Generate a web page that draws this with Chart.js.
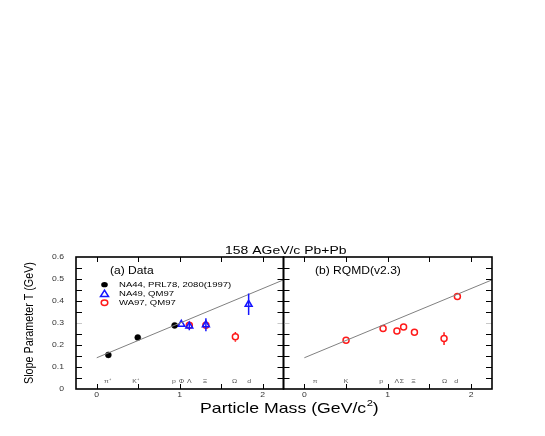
<!DOCTYPE html>
<html>
<head>
<meta charset="utf-8">
<script src="https://cdn.jsdelivr.net/npm/chart.js@4"></script>
<style>
  body { margin: 0; background: #fff; }
  #wrap { position: relative; width: 545px; height: 436px; }
  canvas { position: absolute; left: 0; top: 0; }
</style>
</head>
<body>
<div id="wrap">
  <canvas id="left" width="545" height="436"></canvas>
  <canvas id="right" width="545" height="436"></canvas>
</div>
<script>
// --- data ---
const fitLine = [{ x: 0, y: 0.142 }, { x: 2.25, y: 0.496 }];

const na44Mass = [0.14, 0.494, 0.938];
const na44Slope = [0.155, 0.234, 0.289];

const na49Mass = [1.019, 1.115, 1.315, 1.83];
const na49Slope = [0.294, 0.286, 0.292, 0.385];
const na49Err = [0, 0.019, 0.03, 0.049];

const wa97Mass = [1.115, 1.315, 1.67];
const wa97Slope = [0.29, 0.29, 0.237];
const wa97Err = [0.012, 0.014, 0.022];

const rqmdMass = [0.5, 0.944, 1.11, 1.19, 1.32, 1.675, 1.835];
const rqmdSlope = [0.222, 0.275, 0.264, 0.282, 0.258, 0.229, 0.42];
const rqmdErr = [0, 0, 0, 0, 0, 0.029, 0];

const yTicks = [0, 0.1, 0.2, 0.3, 0.4, 0.5, 0.6];
const xTicks = [0, 1, 2];

const leftLabels = ['π⁺', 'K⁺', 'p', 'Φ', 'Λ', 'Ξ', 'Ω', 'd'];
const leftLabelX = [0.13, 0.47, 0.93, 1.02, 1.115, 1.305, 1.66, 1.835];
const rightLabels = ['π', 'K', 'p', 'Λ', 'Σ', 'Ξ', 'Ω', 'd'];
const rightLabelX = [0.13, 0.5, 0.92, 1.11, 1.17, 1.31, 1.68, 1.82];
const labelY = 0.036;

const legendTexts = ['NA44, PRL78, 2080(1997)', 'NA49, QM97', 'WA97, QM97'];

const FONT = '"Liberation Sans", Arial, sans-serif';
const BLUE = '#1515ff';
const RED = '#ff1a1a';
const legendColors = ['#000', BLUE, RED];

function pts(xs, ys) {
    return xs.map((x, i) => ({ x: x, y: ys[i] }));
}

// text drawn a bit wider than the font, like the original figure
function text(ctx, str, x, y, size, sx, align) {
    ctx.save();
    ctx.font = size + 'px ' + FONT;
    ctx.textAlign = align || 'left';
    ctx.textBaseline = 'middle';
    ctx.translate(x, y);
    ctx.scale(sx, 1);
    ctx.fillText(str, 0, 0);
    const w = ctx.measureText(str).width * sx;
    ctx.restore();
    return w;
}

// error bars; open circles keep their inside clear, triangles don't
const errorBars = {
    id: 'errorBars',
    afterDatasetsDraw(chart) {
        const ctx = chart.ctx;
        const ys = chart.scales.y;
        chart.data.datasets.forEach((ds, di) => {
            if (!ds.errors) return;
            const meta = chart.getDatasetMeta(di);
            ctx.save();
            ctx.strokeStyle = ds.borderColor;
            ctx.lineWidth = 1.5;
            meta.data.forEach((el, i) => {
                const e = ds.errors[i];
                if (!e) return;
                const v = ds.data[i].y;
                const top = ys.getPixelForValue(v + e);
                const bot = ys.getPixelForValue(v - e);
                const r = ds.pointStyle === 'circle' ? ds.pointRadius + 0.5 : 0;
                ctx.beginPath();
                if (top < el.y - r) { ctx.moveTo(el.x, top); ctx.lineTo(el.x, el.y - r); }
                if (bot > el.y + r) { ctx.moveTo(el.x, el.y + r); ctx.lineTo(el.x, bot); }
                ctx.stroke();
            });
            ctx.restore();
        });
    }
};

// frame, inward ticks, tick labels, particle names
function makeFrame(cfg) {
    return {
        id: 'frame',
        afterDraw(chart) {
            const ctx = chart.ctx;
            const a = chart.chartArea;
            const xs = chart.scales.x;
            const ys = chart.scales.y;
            ctx.save();
            ctx.lineWidth = 1;
            for (let k = 1; k < 12; k++) {
                const v = k * 0.05;
                const py = Math.round(ys.getPixelForValue(v)) + 0.5;
                ctx.strokeStyle = k === 6 ? '#c8c8c8' : '#000';
                ctx.beginPath();
                ctx.moveTo(a.left, py); ctx.lineTo(a.left + 6, py);
                ctx.moveTo(a.right, py); ctx.lineTo(a.right - 6, py);
                ctx.stroke();
            }
            ctx.strokeStyle = '#000';
            for (let k = 0; k <= 4; k++) {
                const px = Math.round(xs.getPixelForValue(k * 0.5)) + 0.5;
                ctx.beginPath();
                ctx.moveTo(px, a.bottom); ctx.lineTo(px, a.bottom - 5);
                ctx.moveTo(px, a.top); ctx.lineTo(px, a.top + 5);
                ctx.stroke();
            }
            ctx.lineWidth = 1.6;
            ctx.strokeRect(a.left, a.top, a.right - a.left, a.bottom - a.top);

            ctx.fillStyle = '#333';
            xTicks.forEach(v => text(ctx, String(v), xs.getPixelForValue(v), a.bottom + 6, 7.5, 1.15, 'center'));
            if (cfg.yLabels) {
                yTicks.forEach(v => text(ctx, v === 0 ? '0' : v.toFixed(1), a.left - 12, ys.getPixelForValue(v), 7.5, 1.15, 'right'));
            }

            ctx.fillStyle = '#555';
            cfg.names.forEach((n, i) => text(ctx, n, xs.getPixelForValue(cfg.namesX[i]), ys.getPixelForValue(labelY), 6, 1.15, 'center'));

            ctx.fillStyle = '#000';
            text(ctx, cfg.panel, cfg.panelX, 271.5, 10.5, 1.15);

            if (cfg.legend) {
                const rows = [284.7, 294, 302.7];
                legendTexts.forEach((t, i) => {
                    const y = rows[i];
                    ctx.fillStyle = '#000';
                    text(ctx, t, 119, y, 8, 1.19);
                    ctx.lineWidth = 1.5;
                    ctx.strokeStyle = legendColors[i];
                    ctx.fillStyle = legendColors[i];
                    ctx.beginPath();
                    if (i === 0) {
                        ctx.ellipse(104.5, y, 3.3, 2.6, 0, 0, Math.PI * 2);
                        ctx.fill();
                    } else if (i === 1) {
                        ctx.moveTo(104.5, y - 3.8); ctx.lineTo(108.5, y + 2.6); ctx.lineTo(100.5, y + 2.6); ctx.closePath();
                        ctx.stroke();
                    } else {
                        ctx.ellipse(104.5, y, 3.3, 2.7, 0, 0, Math.PI * 2);
                        ctx.stroke();
                    }
                });
            }

            if (cfg.titles) {
                ctx.fillStyle = '#000';
                text(ctx, '158 AGeV/c Pb+Pb', 285.8, 251, 10.2, 1.37, 'center');
                const w = text(ctx, 'Particle Mass (GeV/c', 200, 409, 15, 1.18);
                text(ctx, '2', 200 + w + 0.5, 403.5, 9.5, 1.18);
                text(ctx, ')', 200 + w + 6.5, 409, 15, 1.18);
                ctx.translate(30, 323);
                ctx.rotate(-Math.PI / 2);
                text(ctx, 'Slope Parameter T (GeV)', 0, 0, 12.5, 0.86, 'center');
            }
            ctx.restore();
        }
    };
}

const scaleOpts = {
    x: { type: 'linear', min: -0.25, max: 2.25, display: false },
    y: { type: 'linear', min: 0, max: 0.6, display: false }
};

function lineDs() {
    return {
        type: 'line', data: fitLine, borderColor: '#808080', borderWidth: 1,
        pointRadius: 0, fill: false
    };
}

new Chart(document.getElementById('left'), {
    type: 'scatter',
    data: {
        datasets: [
            lineDs(),
            { data: pts(na44Mass, na44Slope), pointStyle: 'circle', pointRadius: 3,
              backgroundColor: '#000', borderColor: '#000', borderWidth: 0.5 },
            { data: pts(na49Mass, na49Slope), errors: na49Err, pointStyle: 'triangle', pointRadius: 4,
              backgroundColor: 'rgba(0,0,0,0)', borderColor: BLUE, borderWidth: 1.5 },
            { data: pts(wa97Mass, wa97Slope), errors: wa97Err, pointStyle: 'circle', pointRadius: 3,
              backgroundColor: 'rgba(0,0,0,0)', borderColor: RED, borderWidth: 1.5 }
        ]
    },
    options: {
        responsive: false, animation: false,
        layout: { padding: { left: 76, top: 257, right: 545 - 283.5, bottom: 436 - 389 } },
        scales: scaleOpts,
        plugins: { legend: { display: false }, tooltip: { enabled: false } }
    },
    plugins: [errorBars, makeFrame({
        yLabels: true, titles: true, legend: true,
        names: leftLabels, namesX: leftLabelX,
        panel: '(a) Data', panelX: 110
    })]
});

new Chart(document.getElementById('right'), {
    type: 'scatter',
    data: {
        datasets: [
            lineDs(),
            { data: pts(rqmdMass, rqmdSlope), errors: rqmdErr, pointStyle: 'circle', pointRadius: 3,
              backgroundColor: 'rgba(0,0,0,0)', borderColor: RED, borderWidth: 1.5 }
        ]
    },
    options: {
        responsive: false, animation: false,
        layout: { padding: { left: 283.5, top: 257, right: 545 - 492, bottom: 436 - 389 } },
        scales: scaleOpts,
        plugins: { legend: { display: false }, tooltip: { enabled: false } }
    },
    plugins: [errorBars, makeFrame({
        yLabels: false, titles: false, legend: false,
        names: rightLabels, namesX: rightLabelX,
        panel: '(b) RQMD(v2.3)', panelX: 315
    })]
});
</script>
</body>
</html>
